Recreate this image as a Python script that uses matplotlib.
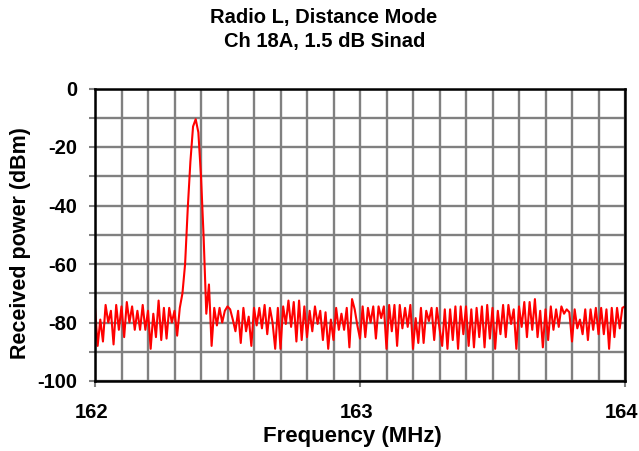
import numpy as np
import matplotlib
matplotlib.use("Agg")
import matplotlib.pyplot as plt
import matplotlib.transforms as mtransforms
from matplotlib.ticker import MultipleLocator

plt.rcParams['font.family'] = ['Liberation Sans', 'DejaVu Sans']
plt.rcParams['axes.unicode_minus'] = False

title_lines = ["Radio L, Distance Mode", "Ch 18A, 1.5 dB Sinad"]
x_label = "Frequency (MHz)"
y_label = "Received power (dBm)"

f_start = 162.0
f_step = 0.01

# received power, one value per 0.01 MHz from 162.00 to 164.00
power_dbm = [
    -75, -88, -79, -86.5, -74, -80, -76, -87.5, -74, -82.5,
    -74.5, -85, -73, -80, -74.5, -82.5, -76, -82.5, -74, -82.5,
    -76, -89, -77, -85, -72.5, -86, -75, -85.5, -75, -80,
    -76, -84.5, -75, -70, -60, -41, -25, -13, -10.5, -15,
    -30, -51, -77, -67, -88, -75, -81, -75, -80, -76,
    -74.5, -75.5, -79, -83, -76, -87, -75, -83, -78, -88,
    -75, -81, -75, -82, -74, -84, -75, -80, -89, -75,
    -89, -74.5, -80.5, -72.5, -81.5, -73, -86.5, -72.5, -86, -74.5,
    -85, -76, -83, -74.5, -80.5, -76, -86, -76.5, -89, -79,
    -86, -75, -82.5, -77, -82.5, -75, -88.5, -72, -75.5, -81,
    -85.5, -74.5, -85, -75, -80, -74.5, -85.5, -74.5, -78.5, -74.5,
    -89, -74, -83, -74, -88, -74, -82, -75, -81.5, -74,
    -89, -78.5, -87, -75, -87, -76, -79.5, -75, -86, -75,
    -82, -88, -75.5, -89, -75.5, -86, -74.5, -89, -74.5, -84,
    -74.5, -88, -75.5, -88.5, -75, -85, -74.5, -88.5, -74, -85.5,
    -75, -89, -76, -84, -74, -85, -74, -80.5, -75.5, -89,
    -74.5, -81.5, -73, -85, -73, -82.5, -72, -85, -76, -88.5,
    -75.5, -86, -74.5, -82.5, -75.5, -81.5, -74.5, -77, -75.5, -76.5,
    -86.5, -75.5, -82, -79, -84, -75.5, -86, -75.5, -82.5, -75,
    -84, -75, -84, -75.5, -89, -75, -85, -75, -82, -75,
    -74.5,
]

freq_mhz = f_start + f_step * np.arange(len(power_dbm))

fig = plt.figure(figsize=(6.39, 4.51), dpi=100)
ax = fig.add_axes([95 / 639, 1 - 381 / 451, 530 / 639, 292.5 / 451])

ax.plot(freq_mhz, power_dbm, color='#ff0000', lw=1.5, zorder=3)

ax.set_xlim(162, 164)
ax.set_ylim(-100, 0)
ax.xaxis.set_major_locator(MultipleLocator(1))
ax.xaxis.set_minor_locator(MultipleLocator(0.1))
ax.yaxis.set_major_locator(MultipleLocator(20))
ax.yaxis.set_minor_locator(MultipleLocator(10))
ax.xaxis.set_major_formatter(plt.FuncFormatter(lambda v, p: f"{v:.0f}"))

ax.grid(True, which='both', color='#808080', lw=1.7, zorder=1)
ax.set_axisbelow(True)
for sp in ax.spines.values():
    sp.set_color('black')
    sp.set_linewidth(1.8)
    sp.set_zorder(4)

ax.tick_params(axis='y', which='both', direction='out', length=4, width=1.5,
               color='#808080', pad=9, labelsize=14.5)
ax.tick_params(axis='x', which='major', direction='out', length=4, width=1.5,
               color='#808080', pad=12, labelsize=14.5)
ax.tick_params(axis='x', which='minor', length=0)

shift = mtransforms.ScaledTranslation(-3.5 / 100, 0, fig.dpi_scale_trans)
for lab in ax.get_xticklabels():
    lab.set_fontweight('bold')
    lab.set_transform(lab.get_transform() + shift)
for lab in ax.get_yticklabels():
    lab.set_fontweight('bold')

ax.set_xlabel(x_label, fontsize=16, fontweight='bold', va='center')
ax.xaxis.set_label_coords(0.485, -0.19)
ax.set_ylabel(y_label, fontsize=15.5, fontweight='bold', va='center')
ax.yaxis.set_label_coords(-0.141, 0.47)

fig.text(0.506, 1 - 17 / 451, title_lines[0], ha='center', va='center',
         fontsize=14.5, fontweight='bold')
fig.text(0.508, 1 - 41 / 451, title_lines[1], ha='center', va='center',
         fontsize=14.5, fontweight='bold')

fig.savefig("out.png", dpi=100)
